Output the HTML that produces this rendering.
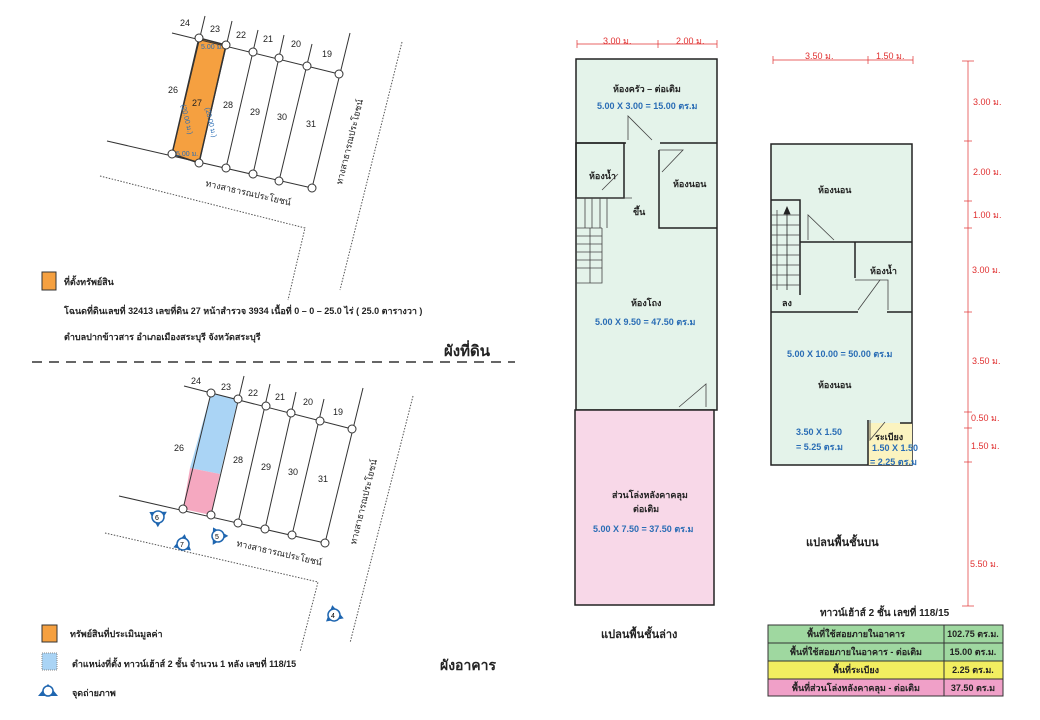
<!DOCTYPE html>
<html><head><meta charset="utf-8"><style>
html,body{margin:0;padding:0;background:#fff;}
svg{display:block;font-family:"Liberation Sans","Noto Sans CJK SC",sans-serif;}
.t{font-size:9px;fill:#222;font-weight:bold}
.b{font-size:9px;fill:#2a6db5;font-weight:bold}
.r{font-size:9px;fill:#e03030}
.n{font-size:9px;fill:#222}
</style></head><body>
<svg width="1040" height="720" viewBox="0 0 1040 720" xmlns="http://www.w3.org/2000/svg">
<defs>
<g id="cam"><path d="M-9,5 L0,-10 L9,5 Z" fill="#1f66b0"/><circle r="6" fill="#fff" stroke="#1f66b0" stroke-width="1.5"/></g>
</defs>
<!-- TOP MAP -->
<g stroke="#333" stroke-width="1" fill="none">
<polygon points="199,38 226,45 199,163 172,154" fill="#f5a040" stroke="#333" stroke-width="1.5"/>
<line x1="172" y1="33" x2="339" y2="74"/>
<line x1="107" y1="141" x2="312" y2="188"/>
<line x1="205" y1="16" x2="172" y2="154"/>
<line x1="232" y1="21" x2="199" y2="163"/>
<line x1="258" y1="30" x2="226" y2="168"/>
<line x1="284" y1="35" x2="253" y2="174"/>
<line x1="312" y1="44" x2="279" y2="181"/>
<line x1="350" y1="33" x2="312" y2="188"/>
<path d="M100,176 L305,228 L288,300" stroke-dasharray="1.5,1.5" stroke="#555"/>
<line x1="402" y1="42" x2="340" y2="290" stroke-dasharray="1.5,1.5" stroke="#555"/>
</g>
<g fill="#fff" stroke="#333">
<circle cx="199" cy="38" r="4"/><circle cx="226" cy="45" r="4"/><circle cx="253" cy="52" r="4"/><circle cx="279" cy="58" r="4"/><circle cx="307" cy="66" r="4"/><circle cx="339" cy="74" r="4"/>
<circle cx="172" cy="154" r="4"/><circle cx="199" cy="163" r="4"/><circle cx="226" cy="168" r="4"/><circle cx="253" cy="174" r="4"/><circle cx="279" cy="181" r="4"/><circle cx="312" cy="188" r="4"/>
</g>
<g class="n">
<text x="180" y="26" class="n">24</text><text x="210" y="32" class="n">23</text><text x="236" y="38" class="n">22</text><text x="263" y="42" class="n">21</text><text x="291" y="47" class="n">20</text><text x="322" y="57" class="n">19</text>
<text x="168" y="93" class="n">26</text><text x="192" y="106" class="n">27</text><text x="223" y="108" class="n">28</text><text x="250" y="115" class="n">29</text><text x="277" y="120" class="n">30</text><text x="306" y="127" class="n">31</text>
</g>
<text x="201" y="49" font-size="7" fill="#2a6db5">5.00 ม.</text>
<text x="176" y="156" font-size="7" fill="#2a6db5">5.00 ม.</text>
<text transform="translate(181,105) rotate(76)" font-size="7" fill="#2a6db5">(20.00 ม.)</text>
<text transform="translate(205,108) rotate(76)" font-size="7" fill="#2a6db5">(20.00 ม.)</text>
<text transform="translate(205,186) rotate(13)" class="n" font-size="8">ทางสาธารณประโยชน์</text>
<text transform="translate(342,185) rotate(-76)" class="n" font-size="8">ทางสาธารณประโยชน์</text>
<rect x="42" y="272" width="14" height="18" fill="#f5a040" stroke="#333"/>
<text x="64" y="285" class="t">ที่ตั้งทรัพย์สิน</text>
<text x="64" y="314" class="t">โฉนดที่ดินเลขที่ 32413 เลขที่ดิน 27 หน้าสำรวจ 3934 เนื้อที่ 0 – 0 – 25.0 ไร่ ( 25.0 ตารางวา )</text>
<text x="64" y="340" class="t">ตำบลปากข้าวสาร อำเภอเมืองสระบุรี จังหวัดสระบุรี</text>
<text x="444" y="356" font-size="15" font-weight="bold" fill="#222">ผังที่ดิน</text>
<line x1="32" y1="362" x2="515" y2="362" stroke="#333" stroke-width="1.5" stroke-dasharray="10,7"/>
<!-- LOWER MAP -->
<polygon points="211,393 238,399 220,474 190,468" fill="#aad4f5"/>
<polygon points="190,468 220,474 211,515 183,509" fill="#f5a8c0"/>
<g stroke="#333" stroke-width="1" fill="none">
<line x1="184" y1="386" x2="352" y2="429"/>
<line x1="119" y1="496" x2="325" y2="543"/>
<line x1="211" y1="393" x2="183" y2="509"/>
<line x1="244" y1="376" x2="211" y2="515"/>
<line x1="270" y1="384" x2="238" y2="523"/>
<line x1="296" y1="392" x2="265" y2="529"/>
<line x1="324" y1="399" x2="292" y2="535"/>
<line x1="363" y1="388" x2="325" y2="543"/>
<path d="M105,533 L318,582 L300,652" stroke-dasharray="1.5,1.5" stroke="#555"/>
<line x1="413" y1="396" x2="350" y2="643" stroke-dasharray="1.5,1.5" stroke="#555"/>
</g>
<g fill="#fff" stroke="#333">
<circle cx="211" cy="393" r="4"/><circle cx="238" cy="399" r="4"/><circle cx="266" cy="406" r="4"/><circle cx="291" cy="413" r="4"/><circle cx="320" cy="421" r="4"/><circle cx="352" cy="429" r="4"/>
<circle cx="183" cy="509" r="4"/><circle cx="211" cy="515" r="4"/><circle cx="238" cy="523" r="4"/><circle cx="265" cy="529" r="4"/><circle cx="292" cy="535" r="4"/><circle cx="325" cy="543" r="4"/>
</g>
<text x="191" y="384" class="n">24</text><text x="221" y="390" class="n">23</text><text x="248" y="396" class="n">22</text><text x="275" y="400" class="n">21</text><text x="303" y="405" class="n">20</text><text x="333" y="415" class="n">19</text>
<text x="174" y="451" class="n">26</text><text x="233" y="463" class="n">28</text><text x="261" y="470" class="n">29</text><text x="288" y="475" class="n">30</text><text x="318" y="482" class="n">31</text>
<text transform="translate(236,546) rotate(13)" class="n" font-size="8">ทางสาธารณประโยชน์</text>
<text transform="translate(356,545) rotate(-76)" class="n" font-size="8">ทางสาธารณประโยชน์</text>
<g transform="translate(158,517) rotate(-60)"><use href="#cam"/></g><text x="155" y="520" font-size="7">6</text>
<g transform="translate(183,544) rotate(10)"><use href="#cam"/></g><text x="180" y="547" font-size="7">7</text>
<g transform="translate(218,536) rotate(-30)"><use href="#cam"/></g><text x="215" y="539" font-size="7">5</text>
<g transform="translate(334,615) rotate(-10)"><use href="#cam"/></g><text x="331" y="618" font-size="7">4</text>
<rect x="42" y="625" width="15" height="17" fill="#f5a040" stroke="#333"/>
<text x="70" y="637" class="t">ทรัพย์สินที่ประเมินมูลค่า</text>
<rect x="42" y="653" width="15" height="17" fill="#aad4f5" stroke="#888" stroke-dasharray="1,1"/>
<text x="72" y="667" class="t">ตำแหน่งที่ตั้ง ทาวน์เฮ้าส์ 2 ชั้น จำนวน 1 หลัง เลขที่ 118/15</text>
<g transform="translate(48,691)"><path d="M-10,5 L0,-7 L10,5 Z" fill="#1f66b0"/><circle r="5" fill="#fff" stroke="#1f66b0" stroke-width="1.5"/></g>
<text x="72" y="696" class="t">จุดถ่ายภาพ</text>
<text x="440" y="670" font-size="14" font-weight="bold" fill="#222">ผังอาคาร</text>
<!-- GROUND FLOOR -->
<g stroke="#e03030" stroke-width="0.7" fill="none">
<line x1="577" y1="44" x2="717" y2="44"/><line x1="577" y1="40" x2="577" y2="48"/><line x1="658" y1="40" x2="658" y2="48"/><line x1="717" y1="40" x2="717" y2="48"/>
<line x1="773" y1="60" x2="913" y2="60"/><line x1="773" y1="56" x2="773" y2="64"/><line x1="868" y1="56" x2="868" y2="64"/><line x1="913" y1="56" x2="913" y2="64"/>
<line x1="968" y1="61" x2="968" y2="606"/><line x1="962" y1="61" x2="974" y2="61"/><line x1="962" y1="606" x2="974" y2="606"/>
<line x1="964" y1="141" x2="972" y2="141"/><line x1="964" y1="201" x2="972" y2="201"/><line x1="964" y1="228" x2="972" y2="228"/><line x1="964" y1="312" x2="972" y2="312"/><line x1="964" y1="412" x2="972" y2="412"/><line x1="964" y1="428" x2="972" y2="428"/><line x1="964" y1="462" x2="972" y2="462"/>
</g>
<text x="603" y="44" class="r">3.00 ม.</text><text x="676" y="44" class="r">2.00 ม.</text>
<text x="805" y="59" class="r">3.50 ม.</text><text x="876" y="59" class="r">1.50 ม.</text>
<text x="973" y="105" class="r">3.00 ม.</text><text x="973" y="175" class="r">2.00 ม.</text><text x="973" y="218" class="r">1.00 ม.</text><text x="972" y="273" class="r">3.00 ม.</text><text x="972" y="364" class="r">3.50 ม.</text><text x="971" y="421" class="r">0.50 ม.</text><text x="971" y="449" class="r">1.50 ม.</text><text x="970" y="567" class="r">5.50 ม.</text>
<rect x="576" y="59" width="141" height="351" fill="#e4f3ea" stroke="#222" stroke-width="1.5"/>
<rect x="575" y="410" width="139" height="195" fill="#f8d8e8" stroke="#222" stroke-width="1.5"/>
<g stroke="#222" stroke-width="1.5" fill="none">
<line x1="576" y1="143" x2="626" y2="143"/><line x1="660" y1="143" x2="717" y2="143"/>
<rect x="576" y="143" width="48" height="55"/>
<path d="M659,150 L659,228 L717,228"/>
</g>
<g stroke="#444" stroke-width="0.8" fill="none">
<path d="M628,140 L628,116 L652,140"/><path d="M659,150 L683,150 L662,172"/><path d="M618,174 L602,190"/><path d="M679,407 L706,384 L706,407"/>
<path d="M576,198 L632,198 M585,198 L585,228 M592,198 L592,228 M600,198 L600,228 M607,198 L607,228 M576,228 L602,228 M576,236 L602,236 M576,244 L602,244 M576,252 L602,252 M576,260 L602,260 M576,268 L602,268 M576,283 L602,283 L602,228 M590,228 L590,283"/>
</g>
<text x="613" y="92" class="t">ห้องครัว – ต่อเติม</text>
<text x="597" y="109" class="b">5.00 X 3.00 = 15.00 ตร.ม</text>
<text x="589" y="179" class="t">ห้องน้ำ</text>
<text x="673" y="187" class="t">ห้องนอน</text>
<text x="633" y="215" class="t">ขึ้น</text>
<text x="631" y="306" class="t">ห้องโถง</text>
<text x="595" y="325" class="b">5.00 X 9.50 = 47.50 ตร.ม</text>
<text x="612" y="498" class="t">ส่วนโล่งหลังคาคลุม</text>
<text x="633" y="512" class="t">ต่อเติม</text>
<text x="593" y="532" class="b">5.00 X 7.50 = 37.50 ตร.ม</text>
<text x="601" y="638" font-size="11" font-weight="bold" fill="#222">แปลนพื้นชั้นล่าง</text>
<!-- UPPER FLOOR -->
<rect x="771" y="144" width="141" height="321" fill="#e4f3ea" stroke="#222" stroke-width="1.5"/>
<rect x="868" y="423" width="44" height="42" fill="#fbf3c0"/>
<g stroke="#222" stroke-width="1.5" fill="none">
<path d="M771,200 L800,200 L800,295"/>
<line x1="800" y1="242" x2="836" y2="242"/><line x1="836" y1="242" x2="912" y2="242"/>
<path d="M855,242 L855,278"/>
<line x1="771" y1="312" x2="858" y2="312"/><line x1="887" y1="312" x2="912" y2="312"/>
<path d="M868,420 L868,465"/><line x1="900" y1="423" x2="912" y2="423"/>
</g>
<g stroke="#444" stroke-width="0.8" fill="none">
<path d="M808,240 L808,215 L834,240"/><path d="M855,280 L880,280 L858,310"/><path d="M880,280 L888,280 L888,310"/>
<path d="M777,210 L777,290 M771,215 L800,215 M771,225 L800,225 M771,235 L800,235 M771,245 L800,245 M771,255 L800,255 M771,265 L800,265 M771,275 L800,275 M771,285 L800,285"/>
<path d="M870,420 L870,440 L885,422"/>
</g>
<path d="M787,210 L787,290 M784,214 L787,207 L790,214 Z" stroke="#222" fill="#222" stroke-width="0.8"/>
<text x="818" y="193" class="t">ห้องนอน</text>
<text x="870" y="274" class="t">ห้องน้ำ</text>
<text x="782" y="306" class="t">ลง</text>
<text x="787" y="357" class="b">5.00 X 10.00 = 50.00 ตร.ม</text>
<text x="818" y="388" class="t">ห้องนอน</text>
<text x="796" y="435" class="b">3.50 X 1.50</text>
<text x="796" y="450" class="b">= 5.25 ตร.ม</text>
<text x="875" y="440" class="t">ระเบียง</text>
<text x="872" y="451" class="b">1.50 X 1.50</text>
<text x="870" y="465" class="b">= 2.25 ตร.ม</text>
<text x="806" y="546" font-size="11" font-weight="bold" fill="#222">แปลนพื้นชั้นบน</text>
<!-- TABLE -->
<text x="820" y="616" font-size="10" font-weight="bold" fill="#222">ทาวน์เฮ้าส์ 2 ชั้น เลขที่ 118/15</text>
<g stroke="#333" stroke-width="1">
<rect x="768" y="625" width="176" height="18" fill="#9fd8a0"/><rect x="944" y="625" width="59" height="18" fill="#9fd8a0"/>
<rect x="768" y="643" width="176" height="18" fill="#9fd8a0"/><rect x="944" y="643" width="59" height="18" fill="#9fd8a0"/>
<rect x="768" y="661" width="176" height="18" fill="#f2ee60"/><rect x="944" y="661" width="59" height="18" fill="#f2ee60"/>
<rect x="768" y="679" width="176" height="17" fill="#f0a0c8"/><rect x="944" y="679" width="59" height="17" fill="#f0a0c8"/>
</g>
<g class="t" text-anchor="middle">
<text x="856" y="637">พื้นที่ใช้สอยภายในอาคาร</text><text x="973" y="637">102.75 ตร.ม.</text>
<text x="856" y="655">พื้นที่ใช้สอยภายในอาคาร - ต่อเติม</text><text x="973" y="655">15.00 ตร.ม.</text>
<text x="856" y="673">พื้นที่ระเบียง</text><text x="973" y="673">2.25 ตร.ม.</text>
<text x="856" y="691">พื้นที่ส่วนโล่งหลังคาคลุม - ต่อเติม</text><text x="973" y="691">37.50 ตร.ม</text>
</g>
</svg>
</body></html>
